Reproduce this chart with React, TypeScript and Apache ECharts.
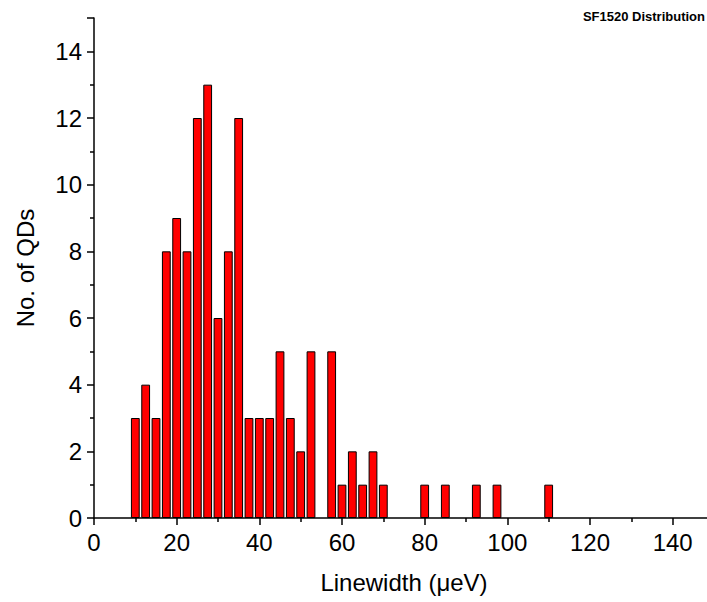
import React, { useEffect, useRef } from "react";
import * as echarts from "echarts";

const binCenters = [10, 12.5, 15, 17.5, 20, 22.5, 25, 27.5, 30, 32.5, 35, 37.5, 40, 42.5, 45, 47.5, 50, 52.5, 57.5, 60, 62.5, 65, 67.5, 70, 80, 85, 92.5, 97.5, 110];
const counts = [3, 4, 3, 8, 9, 8, 12, 13, 6, 8, 12, 3, 3, 3, 5, 3, 2, 5, 5, 1, 2, 1, 2, 1, 1, 1, 1, 1, 1];
const titleText = "SF1520 Distribution";
const xAxisTitle = "Linewidth (μeV)";
const yAxisTitle = "No. of QDs";

const FONT = 'Arial, "Liberation Sans", sans-serif';

export default function App() {
  const ref = useRef<HTMLDivElement>(null);
  useEffect(() => {
    if (!ref.current) return;
    const chart = echarts.init(ref.current, null, { renderer: "svg" });
    const data = binCenters.map((x, i) => [x, counts[i]]);
    chart.setOption({
      animation: false,
      backgroundColor: "#ffffff",
      title: {
        text: titleText,
        right: -3,
        top: 5,
        textStyle: { fontFamily: FONT, fontSize: 13, fontWeight: "bold", color: "#000" },
      },
      grid: { left: 94, right: -7, top: 18, bottom: 84, containLabel: false, outerBoundsMode: "none" },
      xAxis: {
        type: "value",
        min: 0,
        max: 150,
        interval: 20,
        name: xAxisTitle,
        nameLocation: "middle",
        nameGap: 52,
        nameTextStyle: { fontFamily: FONT, fontSize: 24, color: "#000" },
        axisLine: { show: true, onZero: false, lineStyle: { color: "#000", width: 1.5 } },
        axisTick: { show: true, inside: false, length: 7, lineStyle: { color: "#000", width: 1.5 } },
        minorTick: { show: true, splitNumber: 2, length: 4, lineStyle: { color: "#000", width: 1.5 } },
        axisLabel: { fontFamily: FONT, fontSize: 24, color: "#000", margin: 12, showMaxLabel: false },
        splitLine: { show: false },
        minorSplitLine: { show: false },
      },
      yAxis: {
        type: "value",
        min: 0,
        max: 15,
        interval: 2,
        name: yAxisTitle,
        nameLocation: "middle",
        nameGap: 57,
        nameTextStyle: { fontFamily: FONT, fontSize: 24, color: "#000" },
        axisLine: { show: true, lineStyle: { color: "#000", width: 1.5 } },
        axisTick: { show: true, inside: false, length: 7, lineStyle: { color: "#000", width: 1.5 } },
        minorTick: { show: true, splitNumber: 2, length: 4, lineStyle: { color: "#000", width: 1.5 } },
        axisLabel: { fontFamily: FONT, fontSize: 24, color: "#000", margin: 12, showMaxLabel: false },
        splitLine: { show: false },
        minorSplitLine: { show: false },
      },
      series: [
        {
          type: "bar",
          data,
          barWidth: 8.8,
          itemStyle: { color: "#ff0000", borderColor: "#000", borderWidth: 1 },
        },
      ],
    });
    return () => chart.dispose();
  }, []);
  return <div ref={ref} style={{ position: "fixed", left: 0, top: 0, width: 707, height: 602 }} />;
}
